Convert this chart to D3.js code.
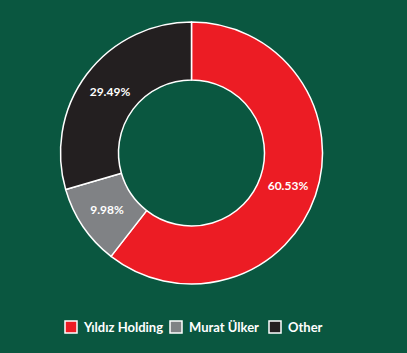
<!DOCTYPE html>
<html><head><meta charset="utf-8">
<script src="https://cdn.jsdelivr.net/npm/d3@7"></script>
<style>html,body{margin:0;padding:0;background:#0a5740;}svg{display:block;}</style>
</head><body>
<script>
const categories = ["Yıldız Holding", "Murat Ülker", "Other"];
const values = [60.53, 9.98, 29.49];
const labels = ["60.53%", "9.98%", "29.49%"];
const colors = ["#ec1c24", "#808285", "#231f20"];

const W = 407, H = 353;
const svg = d3.select("body").append("svg").attr("width", W).attr("height", H);
svg.append("rect").attr("width", W).attr("height", H).attr("fill", "#0a5740");

const cx = 191.5, cy = 153, rO = 131, rI = 73;
const pie = d3.pie().sort(null).value(d => d)(values);
const arc = d3.arc().innerRadius(rI).outerRadius(rO);
const g = svg.append("g").attr("transform", `translate(${cx},${cy})`);
g.selectAll("path").data(pie).join("path")
  .attr("d", arc).attr("fill", (d, i) => colors[i])
  .attr("stroke", "#fff").attr("stroke-width", 1.5).attr("stroke-linejoin", "round");
g.selectAll("text").data(pie).join("text")
  .attr("transform", d => { const c = arc.centroid(d); return `translate(${c[0]},${c[1]})`; })
  .attr("text-anchor", "middle").attr("dy", "0.35em")
  .attr("fill", "#fff").attr("font-family", "Lato, sans-serif").attr("font-weight", "bold").attr("font-size", 12)
  .text((d, i) => labels[i]);

const legendX = [65, 170, 269];
const lg = svg.append("g");
categories.forEach((c, i) => {
  lg.append("rect").attr("x", legendX[i]).attr("y", 321).attr("width", 12).attr("height", 12)
    .attr("fill", colors[i]).attr("stroke", "#fff").attr("stroke-width", 1.5);
  lg.append("text").attr("x", legendX[i] + 19).attr("y", 331.5)
    .attr("fill", "#fff").attr("font-family", "Lato, sans-serif").attr("font-weight", "bold").attr("font-size", 13)
    .text(c);
});
</script>
</body></html>
